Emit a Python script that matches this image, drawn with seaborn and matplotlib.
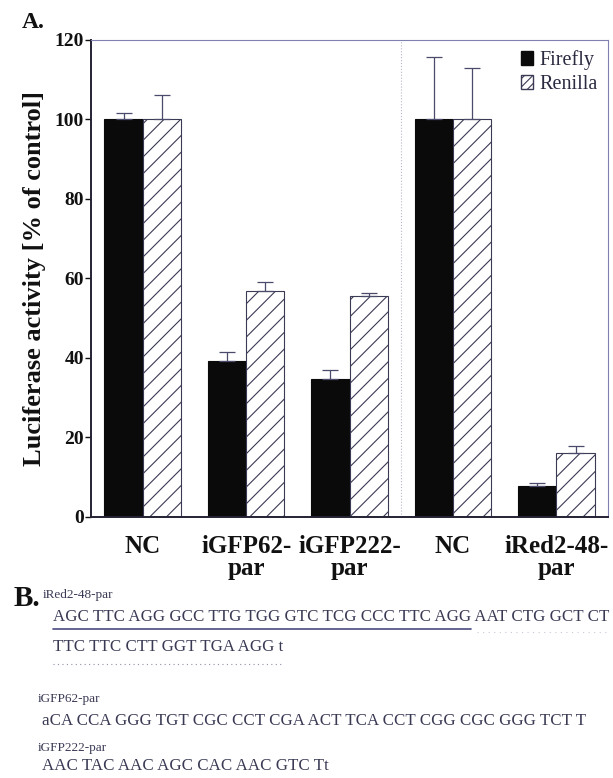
import numpy as np
import pandas as pd
import matplotlib
matplotlib.use("Agg")
import matplotlib.pyplot as plt
import seaborn as sns
from matplotlib.patches import Patch
from matplotlib.lines import Line2D

# data (% of control)
constructs = ["NC_1", "iGFP62", "iGFP222", "NC_2", "iRed2"]
tick_labels = ["NC", "iGFP62-\npar", "iGFP222-\npar", "NC", "iRed2-48-\npar"]
firefly = [100, 39.3, 34.6, 100, 7.9]
firefly_err = [1.7, 2.1, 2.4, 15.7, 0.7]
renilla = [100, 56.9, 55.7, 100, 16.1]
renilla_err = [6.1, 2.3, 0.7, 13.0, 1.8]
assays = ["Firefly", "Renilla"]

# sequences shown in panel B
seq_names = ["iRed2-48-par", "iGFP62-par", "iGFP222-par"]
ired_line1_under = "AGC TTC AGG GCC TTG TGG GTC TCG CCC TTC AGG"
ired_line1_rest = " AAT CTG GCT CT"
ired_line2 = "TTC TTC CTT GGT TGA AGG t"
igfp62_seq = "aCA CCA GGG TGT CGC CCT CGA ACT TCA CCT CGG CGC GGG TCT T"
igfp222_seq = "AAC TAC AAC AGC CAC AAC GTC Tt"

df = pd.DataFrame({
    "construct": constructs * 2,
    "assay": ["Firefly"] * 5 + ["Renilla"] * 5,
    "activity": firefly + renilla,
})

sns.set_theme(style="white")
plt.rcParams["font.family"] = ["Liberation Serif", "DejaVu Serif"]
plt.rcParams["hatch.linewidth"] = 0.8

edge = "#3a3a55"
fig = plt.figure(figsize=(6.13, 7.78), dpi=100)
ax = fig.add_axes([0.1485, 0.3355, 0.8435, 0.6131])

sns.barplot(data=df, x="construct", y="activity", hue="assay",
            order=constructs, hue_order=assays,
            palette={"Firefly": "#0a0a0a", "Renilla": "white"},
            width=0.74, errorbar=None, legend=False, ax=ax)

# one-sided (upper) error bars on each bar
errs = [firefly_err, renilla_err]
for cont, err in zip(ax.containers, errs):
    xs = [b.get_x() + b.get_width() / 2 for b in cont]
    ys = [b.get_height() for b in cont]
    ax.errorbar(xs, ys, yerr=[np.zeros(len(err)), err], fmt="none",
                ecolor="#4a4a6a", elinewidth=0.9, capsize=6, capthick=0.9, zorder=1)
for b in ax.containers[0]:
    b.set_edgecolor("#0a0a0a")
    b.set_linewidth(0.8)
for b in ax.containers[1]:
    b.set_hatch("//")
    b.set_edgecolor(edge)
    b.set_linewidth(0.8)

ax.axvline(2.5, color="#b8b8cc", ls=":", lw=0.8)
ax.set_xlim(-0.5, 4.5)
ax.set_ylim(0, 120)
ax.set_yticks(range(0, 121, 20))
ax.set_xticks(range(5))
ax.set_xticklabels(tick_labels, fontsize=18, fontweight="bold", linespacing=0.92)
for lab in ax.get_yticklabels():
    lab.set_fontweight("bold")
    lab.set_fontsize(14)
ax.tick_params(axis="y", left=True, direction="out", length=4, width=1, pad=1, colors="#111111")
ax.tick_params(axis="x", bottom=False, pad=7, colors="#111111")
ax.set_xlabel("")
ax.set_ylabel("Luciferase activity [% of control]", fontsize=19, fontweight="bold",
              labelpad=6, color="#111111")

for s in ["top", "right"]:
    ax.spines[s].set_color("#8080b0")
    ax.spines[s].set_linewidth(0.8)
for s in ["left", "bottom"]:
    ax.spines[s].set_color("#222233")
    ax.spines[s].set_linewidth(1.4)

handles = [Patch(facecolor="#0a0a0a", edgecolor="#0a0a0a", label="Firefly"),
           Patch(facecolor="white", edgecolor=edge, hatch="////", label="Renilla")]
ax.legend(handles=handles, loc="upper right", frameon=False, fontsize=14.5,
          handlelength=0.6, handleheight=0.7, handletextpad=0.35,
          labelspacing=0.25, borderaxespad=0.1, labelcolor="#2a2a40")

# panel letters
fig.text(0.036, 0.985, "A.", fontsize=17, fontweight="bold", va="top", color="#111111")
fig.text(0.022, 1 - 599 / 778, "B.", fontsize=21, fontweight="bold", va="center", color="#111111")

seq_kw = dict(fontsize=12.2, va="center", color="#3a3a55")
name_kw = dict(fontsize=9.5, va="center", color="#3a3a55")

fig.text(43 / 613, 1 - 595 / 778, seq_names[0], **name_kw)
t1 = fig.text(53 / 613, 1 - 617 / 778, ired_line1_under, **seq_kw)
t2 = fig.text(53 / 613, 1 - 647 / 778, ired_line2, **seq_kw)
fig.text(38 / 613, 1 - 699 / 778, seq_names[1], **name_kw)
fig.text(42 / 613, 1 - 721 / 778, igfp62_seq, **seq_kw)
fig.text(38 / 613, 1 - 748 / 778, seq_names[2], **name_kw)
fig.text(42 / 613, 1 - 766 / 778, igfp222_seq, **seq_kw)

# underlines sized from the rendered text
fig.canvas.draw()
r = fig.canvas.get_renderer()
inv = fig.transFigure.inverted()
bb1 = t1.get_window_extent(r).transformed(inv)
t3 = fig.text(bb1.x1, 1 - 617 / 778, ired_line1_rest, **seq_kw)
fig.canvas.draw()
bb3 = t3.get_window_extent(r).transformed(inv)
bb2 = t2.get_window_extent(r).transformed(inv)

y_ul = 1 - 629 / 778
fig.add_artist(Line2D([bb1.x0, bb1.x1], [y_ul, y_ul], color="#4a4a80", lw=1.2))
fig.add_artist(Line2D([bb3.x0 + 0.01, bb3.x1], [y_ul - 0.004, y_ul - 0.004],
                      color="#c8c8d8", lw=0.8, ls=(0, (1, 4))))
y_d = 1 - 664 / 778
fig.add_artist(Line2D([bb2.x0, bb2.x1], [y_d, y_d], color="#9090a8", lw=0.8, ls=(0, (1, 3))))

fig.savefig("out.png", dpi=100)
